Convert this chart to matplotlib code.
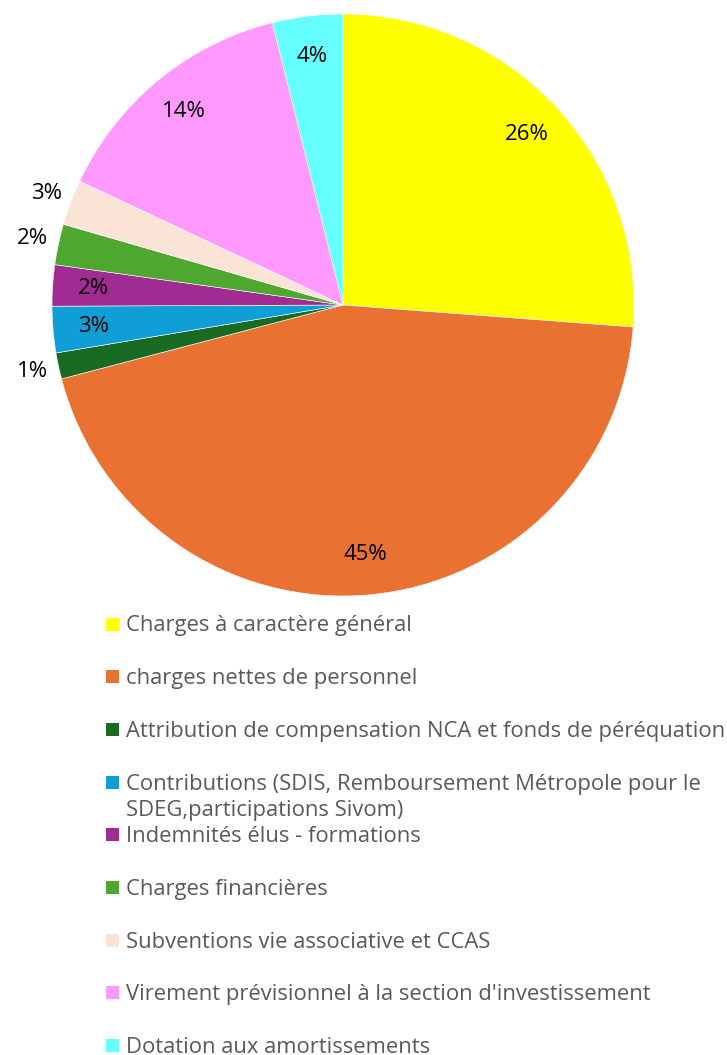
import numpy as np
import matplotlib
matplotlib.use("Agg")
import matplotlib.pyplot as plt
from matplotlib.patches import Rectangle

plt.rcParams['font.family'] = ['Open Sans', 'DejaVu Sans']

# data (share of the budget, %)
labels = ["Charges à caractère général",
          "charges nettes de personnel",
          "Attribution de compensation NCA et fonds de péréquation",
          "Contributions (SDIS, Remboursement Métropole pour le\nSDEG,participations Sivom)",
          "Indemnités élus - formations",
          "Charges financières",
          "Subventions vie associative et CCAS",
          "Virement prévisionnel à la section d'investissement",
          "Dotation aux amortissements"]
values = [26.2, 44.7, 1.45, 2.57, 2.28, 2.26, 2.52, 14.1, 3.9]
colors = ["#FFFF00", "#E97132", "#196B24", "#0F9ED5", "#A02B93",
          "#4EA72E", "#FBE3D6", "#FF99FF", "#66FFFF"]
# label inside (True) or outside the slice
inside = [True, True, False, True, True, False, False, True, True]

W, H = 727, 1055
fig = plt.figure(figsize=(W / 100, H / 100), dpi=100)

# pie axes: centre (343, 305) px, radius ~291 px
cx, cy, r = 343, 305, 291
ax = fig.add_axes([(cx - r) / W, (H - cy - r) / H, 2 * r / W, 2 * r / H])
wedges, _ = ax.pie(values, colors=colors, startangle=90, counterclock=False,
                   radius=1, wedgeprops=dict(edgecolor='white', linewidth=0.4))
ax.set_xlim(-1, 1)
ax.set_ylim(-1, 1)
ax.axis('off')

total = sum(values)
for w, v, ins in zip(wedges, values, inside):
    ang = np.deg2rad((w.theta1 + w.theta2) / 2)
    d = 0.86 if ins else 1.09
    ax.text(d * np.cos(ang), d * np.sin(ang), "%d%%" % round(v / total * 100),
            ha='center', va='center', fontsize=16, color='black')

# legend, one row per item (extra lines go below the first one)
y0, step, line_h = 624, 52.7, 26
for i, (lab, col) in enumerate(zip(labels, colors)):
    yc = y0 + i * step
    fig.patches.append(Rectangle((106 / W, (H - yc - 6.5) / H), 13 / W, 13 / H,
                                 transform=fig.transFigure, facecolor=col,
                                 edgecolor='none'))
    for k, part in enumerate(lab.split("\n")):
        fig.text(126 / W, (H - yc - 7.5 - k * line_h) / H, part, ha='left',
                 va='baseline', fontsize=15.8, color='#595959')

fig.savefig("out.png", dpi=100)
